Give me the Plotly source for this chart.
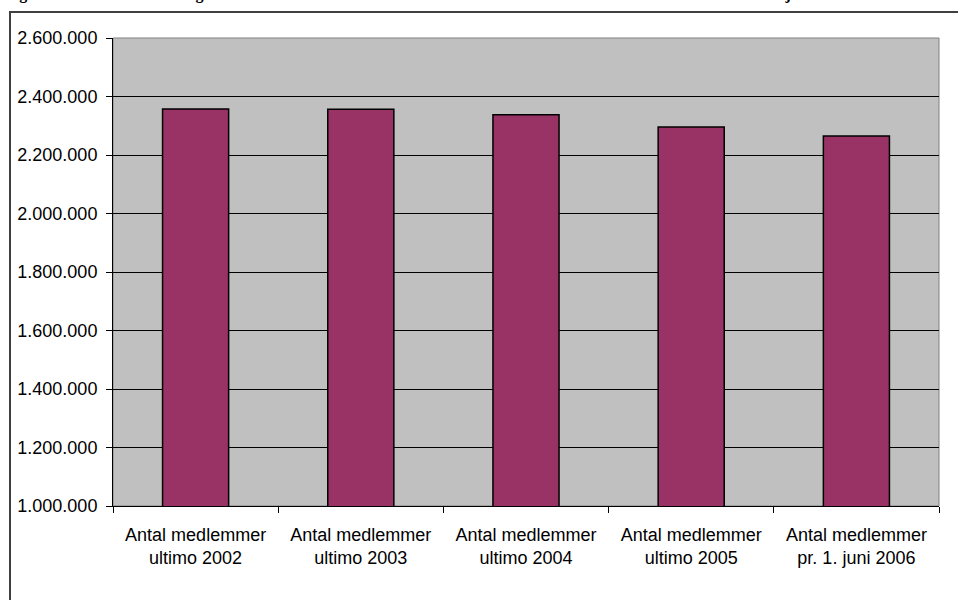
import plotly.graph_objects as go

# Members at each reporting date
categories = [
    "Antal medlemmer<br>ultimo 2002",
    "Antal medlemmer<br>ultimo 2003",
    "Antal medlemmer<br>ultimo 2004",
    "Antal medlemmer<br>ultimo 2005",
    "Antal medlemmer<br>pr. 1. juni 2006",
]
members = [2357000, 2356000, 2338000, 2296000, 2265000]

y_ticks = [1000000 + 200000 * i for i in range(9)]
y_tick_labels = [f"{v:,}".replace(",", ".") for v in y_ticks]

caption = ("Figur 2.1: Medlemsudvikling i de danske a-kasser samlet antal af forsikrede "
           "medlemmer i alt fra ultimo 2002 til 1. juni 2006")

W, H = 958, 600
L, R, T, B = 113, 19, 38, 94
pw, ph = W - L - R, H - T - B


def px_x(p):
    return (p - L) / pw


def px_y(p):
    return (H - B - p) / ph


fig = go.Figure(
    go.Bar(
        x=categories,
        y=members,
        width=0.4,
        marker=dict(color="#993366", line=dict(color="#000000", width=1.5)),
        hoverinfo="x+y",
    )
)

font_main = dict(family="Liberation Sans, Arial, sans-serif", size=18, color="#000000")

fig.update_layout(
    width=W,
    height=H,
    margin=dict(l=L, r=R, t=T, b=B, pad=0),
    paper_bgcolor="#FFFFFF",
    plot_bgcolor="#C0C0C0",
    font=font_main,
    showlegend=False,
    bargap=0.6,
    xaxis=dict(
        type="category",
        tickson="boundaries",
        ticks="outside",
        ticklen=6,
        tickcolor="#000000",
        ticklabelstandoff=12,
        showline=True,
        linecolor="#000000",
        linewidth=1,
        showgrid=False,
        tickfont=font_main,
    ),
    yaxis=dict(
        range=[1000000, 2600000],
        tickvals=y_ticks,
        ticktext=y_tick_labels,
        ticks="outside",
        ticklen=6,
        tickcolor="#000000",
        ticklabelstandoff=5,
        showline=True,
        linecolor="#000000",
        linewidth=1,
        showgrid=True,
        gridcolor="#000000",
        gridwidth=1,
        zeroline=False,
        tickfont=font_main,
    ),
    shapes=[
        # grey frame around the plot area
        dict(type="rect", xref="paper", yref="paper", x0=0, x1=1, y0=0, y1=1,
             line=dict(color="#808080", width=1), layer="below"),
        # outer chart border
        dict(type="rect", xref="paper", yref="paper",
             x0=px_x(10), x1=px_x(965), y0=px_y(610), y1=px_y(12),
             line=dict(color="#404040", width=2)),
    ],
    annotations=[
        # caption line above the chart, running past the page top
        dict(text=f"<b>{caption}</b>", xref="paper", yref="paper",
             x=px_x(3), y=px_y(0), xanchor="left", yanchor="bottom",
             yshift=-5, showarrow=False, align="left",
             font=dict(family="Liberation Serif, Times New Roman, serif", size=16, color="#000000")),
    ],
)

fig.write_html("out.html")
